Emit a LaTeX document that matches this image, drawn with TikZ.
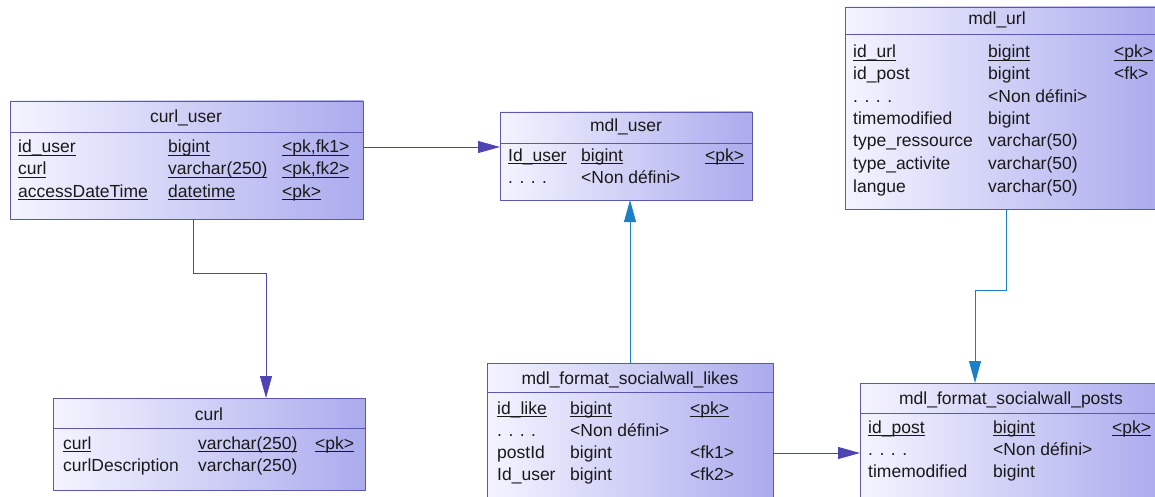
\documentclass[tikz,border=0pt]{standalone}
\usepackage{fontspec}
\setmainfont{Liberation Sans}
\usetikzlibrary{arrows.meta}
\definecolor{bordc}{HTML}{5A58B0}
\definecolor{purp}{HTML}{4E44B4}
\definecolor{bluec}{HTML}{1C80C4}
\definecolor{lightf}{HTML}{F4F4FF}
\definecolor{darkf}{HTML}{ABABEE}
\newcommand\ul[1]{\setbox0\hbox{#1}\rlap{\rule[-3pt]{\wd0}{0.9pt}}\box0}
\newcommand\trow[8]{%
  \node[txt] (#1a) at (#3,#2) {#6};
  \node[txt] (#1b) at (#4,#2) {#7};
  \node[txt] (#1c) at (#5,#2) {#8};}
\begin{document}
\begin{tikzpicture}[x=1pt,y=-1pt,
  tbl/.style={draw=bordc, line width=0.9pt, left color=lightf, right color=darkf,
    anchor=north west, inner sep=0pt, outer sep=0pt},
  sepl/.style={draw=bordc, line width=0.9pt},
  txt/.style={anchor=base west, inner sep=0pt, font=\fontsize{17.5}{20}\selectfont, text=black!90},
  ttl/.style={anchor=base, inner sep=0pt, font=\fontsize{17.5}{20}\selectfont, text=black!90},
  conn/.style={draw=purp, line width=0.9pt, -{Triangle[length=22pt,width=12pt]}},
  connb/.style={conn, draw=bluec}]
\useasboundingbox (0,0) rectangle (1155,497);
% tables
\node[tbl, minimum width=353pt, minimum height=118pt] (curluser) at (10,101) {};
\node[tbl, minimum width=252pt, minimum height=88pt] (mdluser) at (500,112) {};
\node[tbl, minimum width=313pt, minimum height=202pt] (mdlurl) at (845,7) {};
\node[tbl, minimum width=312pt, minimum height=92pt] (curl) at (53,398) {};
\node[tbl, minimum width=286pt, minimum height=150pt] (likes) at (487,363) {};
\node[tbl, minimum width=302pt, minimum height=130pt] (posts) at (860,383) {};
% header separators
\draw[sepl] ([yshift=-31pt]curluser.north west) -- ([yshift=-31pt]curluser.north east);
\draw[sepl] ([yshift=-31pt]mdluser.north west) -- ([yshift=-31pt]mdluser.north east);
\draw[sepl] ([yshift=-27pt]mdlurl.north west) -- ([yshift=-27pt]mdlurl.north east);
\draw[sepl] ([yshift=-30pt]curl.north west) -- ([yshift=-30pt]curl.north east);
\draw[sepl] ([yshift=-29pt]likes.north west) -- ([yshift=-29pt]likes.north east);
\draw[sepl] ([yshift=-30pt]posts.north west) -- ([yshift=-30pt]posts.north east);
% titles
\node[ttl] (curluserT) at (186,123) {curl\_user};
\node[ttl] (mdluserT) at (626,132) {mdl\_user};
\node[ttl] (mdlurlT) at (997,25) {mdl\_url};
\node[ttl] (curlT) at (209,420) {curl};
\node[ttl] (likesT) at (630,384) {mdl\_format\_socialwall\_likes};
\node[ttl] (postsT) at (1011,404) {mdl\_format\_socialwall\_posts};
% curl_user rows
\trow{cu1}{153}{18}{168}{282}{\ul{id\_user}}{\ul{bigint}}{\ul{<pk,fk1>}}
\trow{cu2}{175}{18}{168}{282}{\ul{curl}}{\ul{varchar(250)}}{\ul{<pk,fk2>}}
\trow{cu3}{197}{18}{168}{282}{\ul{accessDateTime}}{\ul{datetime}}{\ul{<pk>}}
% mdl_user rows
\trow{mu1}{161}{508}{581}{705}{\ul{Id\_user}}{\ul{bigint}}{\ul{<pk>}}
\trow{mu2}{183}{508}{581}{705}{. . . .}{<Non défini>}{}
% mdl_url rows
\trow{mr1}{58}{853}{988}{1114}{\ul{id\_url}}{\ul{bigint}}{\ul{<pk>}}
\trow{mr2}{80}{853}{988}{1114}{id\_post}{bigint}{<fk>}
\trow{mr3}{103}{853}{988}{1114}{. . . .}{<Non défini>}{}
\trow{mr4}{125}{853}{988}{1114}{timemodified}{bigint}{}
\trow{mr5}{147}{853}{988}{1114}{type\_ressource}{varchar(50)}{}
\trow{mr6}{169}{853}{988}{1114}{type\_activite}{varchar(50)}{}
\trow{mr7}{192}{853}{988}{1114}{langue}{varchar(50)}{}
% curl rows
\trow{cr1}{449}{63}{198}{315}{\ul{curl}}{\ul{varchar(250)}}{\ul{<pk>}}
\trow{cr2}{471}{63}{198}{315}{curlDescription}{varchar(250)}{}
% likes rows
\trow{lk1}{414}{497}{570}{690}{\ul{id\_like}}{\ul{bigint}}{\ul{<pk>}}
\trow{lk2}{436}{497}{570}{690}{. . . .}{<Non défini>}{}
\trow{lk3}{458}{497}{570}{690}{postId}{bigint}{<fk1>}
\trow{lk4}{480}{497}{570}{690}{Id\_user}{bigint}{<fk2>}
% posts rows
\trow{ps1}{433}{868}{993}{1112}{\ul{id\_post}}{\ul{bigint}}{\ul{<pk>}}
\trow{ps2}{455}{868}{993}{1112}{. . . .}{<Non défini>}{}
\trow{ps3}{477}{868}{993}{1112}{timemodified}{bigint}{}
% connector helper points
\coordinate (c1) at (0,147);
\coordinate (k1) at (193,273);
\coordinate (k2) at (266,273);
\coordinate (k4) at (1006,290);
\coordinate (k5) at (975,290);
\coordinate (c6) at (0,453);
% connectors
\draw[conn] (curluser.east |- c1) -- (mdluser.west |- c1);
\draw[conn] (curluser.south -| k1) -- (k1) -- (k2) -- (curl.north -| k2);
\draw[connb] (likes.north) -- (likes.north |- mdluser.south);
\draw[connb] (mdlurl.south -| k4) -- (k4) -- (k5) -- (posts.north -| k5);
\draw[conn] (likes.east |- c6) -- (posts.west |- c6);
\end{tikzpicture}
\end{document}
